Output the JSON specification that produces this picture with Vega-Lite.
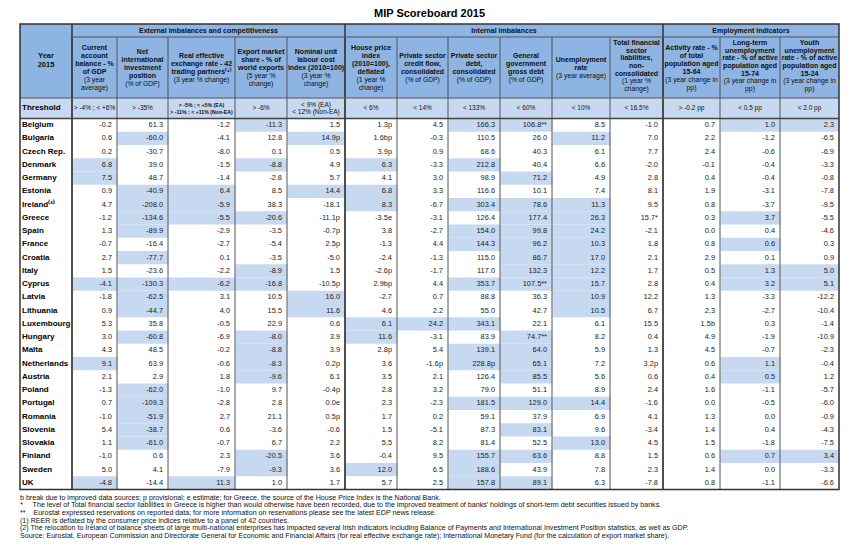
{
 "$schema": "https://vega.github.io/schema/vega-lite/v6.json",
 "width": 863,
 "height": 528,
 "padding": {"left": 0, "top": 24, "right": 0, "bottom": 0},
 "autosize": {"type": "none"},
 "background": "#ffffff",
 "title": {"text": "MIP Scoreboard 2015", "font": "Liberation Sans", "fontSize": 11, "fontWeight": "bold", "color": "#000000", "anchor": "middle", "frame": "group", "offset": 4, "dx": -2},
 "config": {"view": {"stroke": null}, "axis": {"disable": true}, "font": "Liberation Sans", "text": {"font": "Liberation Sans"}},
 "data": {"values": [{}]},
 "datasets": {
  "columns": [
   {"col": 1, "key": "CA", "group": "External imbalances and competitiveness", "label": ["Current", "account", "balance - %", "of GDP"], "unit": ["(3 year", "average)"], "threshold": ["> -4% ; < +6%"]},
   {"col": 2, "key": "NIIP", "group": "External imbalances and competitiveness", "label": ["Net", "international", "investment", "position"], "unit": ["(% of GDP)"], "threshold": ["> -35%"]},
   {"col": 3, "key": "REER", "group": "External imbalances and competitiveness", "label": ["Real effective", "exchange rate - 42", "trading partners⁽¹⁾"], "unit": ["(3 year % change)"], "threshold": ["> -5% ; < +5% (EA)", "> -11% ; < +11% (Non-EA)"]},
   {"col": 4, "key": "EMS", "group": "External imbalances and competitiveness", "label": ["Export market", "share - % of", "world exports"], "unit": ["(5 year %", "change)"], "threshold": ["> -6%"]},
   {"col": 5, "key": "ULC", "group": "External imbalances and competitiveness", "label": ["Nominal unit", "labour cost", "index (2010=100)"], "unit": ["(3 year %", "change)"], "threshold": ["< 9% (EA)", "< 12% (Non-EA)"]},
   {"col": 6, "key": "HPI", "group": "Internal imbalances", "label": ["House price", "index", "(2010=100),", "deflated"], "unit": ["(1 year %", "change)"], "threshold": ["< 6%"]},
   {"col": 7, "key": "CF", "group": "Internal imbalances", "label": ["Private sector", "credit flow,", "consolidated"], "unit": ["(% of GDP)"], "threshold": ["< 14%"]},
   {"col": 8, "key": "PD", "group": "Internal imbalances", "label": ["Private sector", "debt,", "consolidated"], "unit": ["(% of GDP)"], "threshold": ["< 133%"]},
   {"col": 9, "key": "GD", "group": "Internal imbalances", "label": ["General", "government", "gross debt"], "unit": ["(% of GDP)"], "threshold": ["< 60%"]},
   {"col": 10, "key": "U", "group": "Internal imbalances", "label": ["Unemployment", "rate"], "unit": ["(3 year average)"], "threshold": ["< 10%"]},
   {"col": 11, "key": "TFSL", "group": "Internal imbalances", "label": ["Total financial", "sector", "liabilities,", "non-", "consolidated"], "unit": ["(1 year %", "change)"], "threshold": ["< 16.5%"]},
   {"col": 12, "key": "AR", "group": "Employment indicators", "label": ["Activity rate - %", "of total", "population aged", "15-64"], "unit": ["(3 year change in", "pp)"], "threshold": ["> -0.2 pp"]},
   {"col": 13, "key": "LTU", "group": "Employment indicators", "label": ["Long-term", "unemployment", "rate - % of active", "population aged", "15-74"], "unit": ["(3 year change in", "pp)"], "threshold": ["< 0.5 pp"]},
   {"col": 14, "key": "YU", "group": "Employment indicators", "label": ["Youth", "unemployment", "rate - % of active", "population aged", "15-24"], "unit": ["(3 year change in", "pp)"], "threshold": ["< 2.0 pp"]}
  ],
  "countries": [
   {"country": "Belgium", "CA": "-0.2", "NIIP": "61.3", "REER": "-1.2", "EMS": "-11.3", "ULC": "1.5", "HPI": "1.3p", "CF": "4.5", "PD": "166.3", "GD": "106.8**", "U": "8.5", "TFSL": "-1.0", "AR": "0.7", "LTU": "1.0", "YU": "2.3", "out": ["EMS", "PD", "GD", "LTU", "YU"]},
   {"country": "Bulgaria", "CA": "0.6", "NIIP": "-60.0", "REER": "-4.1", "EMS": "12.8", "ULC": "14.9p", "HPI": "1.6bp", "CF": "-0.3", "PD": "110.5", "GD": "26.0", "U": "11.2", "TFSL": "7.0", "AR": "2.2", "LTU": "-1.2", "YU": "-6.5", "out": ["NIIP", "ULC", "U"]},
   {"country": "Czech Rep.", "CA": "0.2", "NIIP": "-30.7", "REER": "-8.0", "EMS": "0.1", "ULC": "0.5", "HPI": "3.9p", "CF": "0.9", "PD": "68.6", "GD": "40.3", "U": "6.1", "TFSL": "7.7", "AR": "2.4", "LTU": "-0.6", "YU": "-6.9", "out": []},
   {"country": "Denmark", "CA": "6.8", "NIIP": "39.0", "REER": "-1.5", "EMS": "-8.8", "ULC": "4.9", "HPI": "6.3", "CF": "-3.3", "PD": "212.8", "GD": "40.4", "U": "6.6", "TFSL": "-2.0", "AR": "-0.1", "LTU": "-0.4", "YU": "-3.3", "out": ["CA", "EMS", "HPI", "PD"]},
   {"country": "Germany", "CA": "7.5", "NIIP": "48.7", "REER": "-1.4", "EMS": "-2.8", "ULC": "5.7", "HPI": "4.1", "CF": "3.0", "PD": "98.9", "GD": "71.2", "U": "4.9", "TFSL": "2.8", "AR": "0.4", "LTU": "-0.4", "YU": "-0.8", "out": ["CA", "GD"]},
   {"country": "Estonia", "CA": "0.9", "NIIP": "-40.9", "REER": "6.4", "EMS": "8.5", "ULC": "14.4", "HPI": "6.8", "CF": "3.3", "PD": "116.6", "GD": "10.1", "U": "7.4", "TFSL": "8.1", "AR": "1.9", "LTU": "-3.1", "YU": "-7.8", "out": ["NIIP", "REER", "ULC", "HPI"]},
   {"country": "Ireland⁽²⁾", "CA": "4.7", "NIIP": "-208.0", "REER": "-5.9", "EMS": "38.3", "ULC": "-18.1", "HPI": "8.3", "CF": "-6.7", "PD": "303.4", "GD": "78.6", "U": "11.3", "TFSL": "9.5", "AR": "0.8", "LTU": "-3.7", "YU": "-9.5", "out": ["NIIP", "REER", "HPI", "PD", "GD", "U"]},
   {"country": "Greece", "CA": "-1.2", "NIIP": "-134.6", "REER": "-5.5", "EMS": "-20.6", "ULC": "-11.1p", "HPI": "-3.5e", "CF": "-3.1", "PD": "126.4", "GD": "177.4", "U": "26.3", "TFSL": "15.7*", "AR": "0.3", "LTU": "3.7", "YU": "-5.5", "out": ["NIIP", "REER", "EMS", "GD", "U", "LTU"]},
   {"country": "Spain", "CA": "1.3", "NIIP": "-89.9", "REER": "-2.9", "EMS": "-3.5", "ULC": "-0.7p", "HPI": "3.8", "CF": "-2.7", "PD": "154.0", "GD": "99.8", "U": "24.2", "TFSL": "-2.1", "AR": "0.0", "LTU": "0.4", "YU": "-4.6", "out": ["NIIP", "PD", "GD", "U"]},
   {"country": "France", "CA": "-0.7", "NIIP": "-16.4", "REER": "-2.7", "EMS": "-5.4", "ULC": "2.5p", "HPI": "-1.3", "CF": "4.4", "PD": "144.3", "GD": "96.2", "U": "10.3", "TFSL": "1.8", "AR": "0.8", "LTU": "0.6", "YU": "0.3", "out": ["PD", "GD", "U", "LTU"]},
   {"country": "Croatia", "CA": "2.7", "NIIP": "-77.7", "REER": "0.1", "EMS": "-3.5", "ULC": "-5.0", "HPI": "-2.4", "CF": "-1.3", "PD": "115.0", "GD": "86.7", "U": "17.0", "TFSL": "2.1", "AR": "2.9", "LTU": "0.1", "YU": "0.9", "out": ["NIIP", "GD", "U"]},
   {"country": "Italy", "CA": "1.5", "NIIP": "-23.6", "REER": "-2.2", "EMS": "-8.9", "ULC": "1.5", "HPI": "-2.6p", "CF": "-1.7", "PD": "117.0", "GD": "132.3", "U": "12.2", "TFSL": "1.7", "AR": "0.5", "LTU": "1.3", "YU": "5.0", "out": ["EMS", "GD", "U", "LTU", "YU"]},
   {"country": "Cyprus", "CA": "-4.1", "NIIP": "-130.3", "REER": "-6.2", "EMS": "-16.8", "ULC": "-10.5p", "HPI": "2.9bp", "CF": "4.4", "PD": "353.7", "GD": "107.5**", "U": "15.7", "TFSL": "2.8", "AR": "0.4", "LTU": "3.2", "YU": "5.1", "out": ["CA", "NIIP", "REER", "EMS", "PD", "GD", "U", "LTU", "YU"]},
   {"country": "Latvia", "CA": "-1.8", "NIIP": "-62.5", "REER": "3.1", "EMS": "10.5", "ULC": "16.0", "HPI": "-2.7", "CF": "0.7", "PD": "88.8", "GD": "36.3", "U": "10.9", "TFSL": "12.2", "AR": "1.3", "LTU": "-3.3", "YU": "-12.2", "out": ["NIIP", "ULC", "U"]},
   {"country": "Lithuania", "CA": "0.9", "NIIP": "-44.7", "REER": "4.0", "EMS": "15.5", "ULC": "11.6", "HPI": "4.6", "CF": "2.2", "PD": "55.0", "GD": "42.7", "U": "10.5", "TFSL": "6.7", "AR": "2.3", "LTU": "-2.7", "YU": "-10.4", "out": ["NIIP", "ULC", "U"]},
   {"country": "Luxembourg", "CA": "5.3", "NIIP": "35.8", "REER": "-0.5", "EMS": "22.9", "ULC": "0.6", "HPI": "6.1", "CF": "24.2", "PD": "343.1", "GD": "22.1", "U": "6.1", "TFSL": "15.5", "AR": "1.5b", "LTU": "0.3", "YU": "-1.4", "out": ["HPI", "CF", "PD"]},
   {"country": "Hungary", "CA": "3.0", "NIIP": "-60.8", "REER": "-6.9", "EMS": "-8.0", "ULC": "3.9", "HPI": "11.6", "CF": "-3.1", "PD": "83.9", "GD": "74.7**", "U": "8.2", "TFSL": "0.4", "AR": "4.9", "LTU": "-1.9", "YU": "-10.9", "out": ["NIIP", "EMS", "HPI", "GD"]},
   {"country": "Malta", "CA": "4.3", "NIIP": "48.5", "REER": "-0.2", "EMS": "-8.8", "ULC": "3.9", "HPI": "2.8p", "CF": "5.4", "PD": "139.1", "GD": "64.0", "U": "5.9", "TFSL": "1.3", "AR": "4.5", "LTU": "-0.7", "YU": "-2.3", "out": ["EMS", "PD", "GD"]},
   {"country": "Netherlands", "CA": "9.1", "NIIP": "63.9", "REER": "-0.6", "EMS": "-8.3", "ULC": "0.2p", "HPI": "3.6", "CF": "-1.6p", "PD": "228.8p", "GD": "65.1", "U": "7.2", "TFSL": "3.2p", "AR": "0.6", "LTU": "1.1", "YU": "-0.4", "out": ["CA", "EMS", "PD", "GD", "LTU"]},
   {"country": "Austria", "CA": "2.1", "NIIP": "2.9", "REER": "1.8", "EMS": "-9.6", "ULC": "6.1", "HPI": "3.5", "CF": "2.1", "PD": "126.4", "GD": "85.5", "U": "5.6", "TFSL": "0.6", "AR": "0.4", "LTU": "0.5", "YU": "1.2", "out": ["EMS", "GD", "LTU"]},
   {"country": "Poland", "CA": "-1.3", "NIIP": "-62.0", "REER": "-1.0", "EMS": "9.7", "ULC": "-0.4p", "HPI": "2.8", "CF": "3.2", "PD": "79.0", "GD": "51.1", "U": "8.9", "TFSL": "2.4", "AR": "1.6", "LTU": "-1.1", "YU": "-5.7", "out": ["NIIP"]},
   {"country": "Portugal", "CA": "0.7", "NIIP": "-109.3", "REER": "-2.8", "EMS": "2.8", "ULC": "0.0e", "HPI": "2.3", "CF": "-2.3", "PD": "181.5", "GD": "129.0", "U": "14.4", "TFSL": "-1.6", "AR": "0.0", "LTU": "-0.5", "YU": "-6.0", "out": ["NIIP", "PD", "GD", "U"]},
   {"country": "Romania", "CA": "-1.0", "NIIP": "-51.9", "REER": "2.7", "EMS": "21.1", "ULC": "0.5p", "HPI": "1.7", "CF": "0.2", "PD": "59.1", "GD": "37.9", "U": "6.9", "TFSL": "4.1", "AR": "1.3", "LTU": "0.0", "YU": "-0.9", "out": ["NIIP"]},
   {"country": "Slovenia", "CA": "5.4", "NIIP": "-38.7", "REER": "0.6", "EMS": "-3.6", "ULC": "-0.6", "HPI": "1.5", "CF": "-5.1", "PD": "87.3", "GD": "83.1", "U": "9.6", "TFSL": "-3.4", "AR": "1.4", "LTU": "0.4", "YU": "-4.3", "out": ["NIIP", "GD"]},
   {"country": "Slovakia", "CA": "1.1", "NIIP": "-61.0", "REER": "-0.7", "EMS": "6.7", "ULC": "2.2", "HPI": "5.5", "CF": "8.2", "PD": "81.4", "GD": "52.5", "U": "13.0", "TFSL": "4.5", "AR": "1.5", "LTU": "-1.8", "YU": "-7.5", "out": ["NIIP", "U"]},
   {"country": "Finland", "CA": "-1.0", "NIIP": "0.6", "REER": "2.3", "EMS": "-20.5", "ULC": "3.6", "HPI": "-0.4", "CF": "9.5", "PD": "155.7", "GD": "63.6", "U": "8.8", "TFSL": "1.5", "AR": "0.6", "LTU": "0.7", "YU": "3.4", "out": ["EMS", "PD", "GD", "LTU", "YU"]},
   {"country": "Sweden", "CA": "5.0", "NIIP": "4.1", "REER": "-7.9", "EMS": "-9.3", "ULC": "3.6", "HPI": "12.0", "CF": "6.5", "PD": "188.6", "GD": "43.9", "U": "7.8", "TFSL": "2.3", "AR": "1.4", "LTU": "0.0", "YU": "-3.3", "out": ["EMS", "HPI", "PD"]},
   {"country": "UK", "CA": "-4.8", "NIIP": "-14.4", "REER": "11.3", "EMS": "1.0", "ULC": "1.7", "HPI": "5.7", "CF": "2.5", "PD": "157.8", "GD": "89.1", "U": "6.3", "TFSL": "-7.8", "AR": "0.8", "LTU": "-1.1", "YU": "-6.6", "out": ["CA", "REER", "PD", "GD"]}
  ],
  "footnotes": [
   {"line": 0, "text": "b break due to improved data sources;  p provisional;  e estimate; for Greece, the source of the House Price Index is the National Bank."},
   {"line": 1, "text": "*\u00a0\u00a0\u00a0\u00a0\u00a0The level of Total financial sector liabilities in Greece is higher than would otherwise have been recorded, due to the improved treatment of banks' holdings of short-term debt securities issued by banks."},
   {"line": 2, "text": "**\u00a0\u00a0\u00a0\u00a0Eurostat expressed reservations on reported data; for more information on reservations please see the latest EDP news release."},
   {"line": 3, "text": "(1) REER is deflated by the consumer price indices relative to a panel of 42 countries."},
   {"line": 4, "text": "(2) The relocation to Ireland of balance sheets of large multi-national enterprises has impacted several Irish indicators including Balance of Payments and International Investment Position statistics, as well as GDP."},
   {"line": 5, "text": "Source: Eurostat, European Commission and Directorate General for Economic and Financial Affairs (for real effective exchange rate); International Monetary Fund (for the calculation of export market share)."}
  ]
 },
 "layer": [
  {
   "mark": {"type": "rect", "fill": "#8db4e2"},
   "encoding": {
    "x": {"datum": 0, "type": "quantitative", "scale": {"type": "linear", "domain": [0,1,2,3,4,5,6,7,8,9,10,11,12,13,14,15], "range": [20,72,117,168,235,287,345,397,448,500,552,610,663,720,780,839], "nice": false, "zero": false}},
    "x2": {"datum": 15},
    "y": {"datum": 0, "type": "quantitative", "scale": {"type": "linear", "domain": [0,1,2,3,4], "range": [0,13,74,94.5,465.5], "nice": false, "zero": false}},
    "y2": {"datum": 2}
   }
  },
  {
   "mark": {"type": "rect", "fill": "#c6d9f1"},
   "encoding": {
    "x": {"datum": 0, "type": "quantitative", "scale": {"type": "linear", "domain": [0,1,2,3,4,5,6,7,8,9,10,11,12,13,14,15], "range": [20,72,117,168,235,287,345,397,448,500,552,610,663,720,780,839], "nice": false, "zero": false}},
    "x2": {"datum": 15},
    "y": {"datum": 2, "type": "quantitative", "scale": {"type": "linear", "domain": [0,1,2,3,4], "range": [0,13,74,94.5,465.5], "nice": false, "zero": false}},
    "y2": {"datum": 3}
   }
  },
  {
   "data": {"name": "countries"},
   "transform": [
    {"fold": ["CA","NIIP","REER","EMS","ULC","HPI","CF","PD","GD","U","TFSL","AR","LTU","YU"], "as": ["key", "value"]},
    {"window": [{"op": "row_number", "as": "col"}], "groupby": ["country"]}
   ],
   "mark": {"type": "rect", "fill": "#c6d9f1"},
   "encoding": {
    "x": {"field": "col", "type": "quantitative", "bin": {"binned": true, "step": 1}, "scale": {"type": "linear", "domain": [0,1,2,3,4,5,6,7,8,9,10,11,12,13,14,15], "range": [20,72,117,168,235,287,345,397,448,500,552,610,663,720,780,839], "nice": false, "zero": false}},
    "y": {"field": "country", "type": "nominal", "sort": null, "scale": {"type": "band", "range": [94.5, 465.5], "paddingInner": 0, "paddingOuter": 0}},
    "opacity": {"condition": {"test": "indexof(datum.out, datum.key) >= 0", "value": 1}, "value": 0}
   }
  },
  {
   "data": {"name": "countries"},
   "transform": [
    {"fold": ["CA","NIIP","REER","EMS","ULC","HPI","CF","PD","GD","U","TFSL","AR","LTU","YU"], "as": ["key", "value"]},
    {"window": [{"op": "row_number", "as": "col"}], "groupby": ["country"]}
   ],
   "mark": {"type": "text", "align": "right", "baseline": "middle", "dx": -5, "fontSize": 7.4, "color": "#222222"},
   "encoding": {
    "x": {"field": "col", "type": "quantitative", "scale": {"type": "linear", "domain": [1,2,3,4,5,6,7,8,9,10,11,12,13,14], "range": [117,168,235,287,345,397,448,500,552,610,663,720,780,839], "nice": false, "zero": false}},
    "y": {"field": "country", "type": "nominal", "sort": null, "scale": {"type": "band", "range": [94.5, 465.5], "paddingInner": 0, "paddingOuter": 0}},
    "text": {"field": "value", "type": "nominal"}
   }
  },
  {
   "data": {"name": "countries"},
   "mark": {"type": "text", "align": "left", "baseline": "middle", "dx": 2, "fontSize": 8, "fontWeight": "bold", "color": "#000000"},
   "encoding": {
    "x": {"datum": 0, "type": "quantitative", "scale": {"type": "linear", "domain": [0,1,2,3,4,5,6,7,8,9,10,11,12,13,14,15], "range": [20,72,117,168,235,287,345,397,448,500,552,610,663,720,780,839], "nice": false, "zero": false}},
    "y": {"field": "country", "type": "nominal", "sort": null, "scale": {"type": "band", "range": [94.5, 465.5], "paddingInner": 0, "paddingOuter": 0}},
    "text": {"field": "country", "type": "nominal"}
   }
  },
  {
   "data": {"name": "columns"},
   "transform": [{"filter": "length(datum.label) + length(datum.unit) == 3"}],
   "mark": {"type": "text", "align": "center", "baseline": "middle", "fontSize": 7, "fontWeight": "bold", "lineHeight": 8, "dy": -8, "color": "#111111"},
   "encoding": {
    "x": {"field": "col", "type": "quantitative", "scale": {"type": "linear", "domain": [1,2,3,4,5,6,7,8,9,10,11,12,13,14], "range": [94.5,142.5,201.5,261,316,371,422.5,474,526,581,636.5,691.5,750,809.5], "nice": false, "zero": false}},
    "y": {"datum": 1.5, "type": "quantitative", "scale": {"type": "linear", "domain": [0,1,2,3,4], "range": [0,13,74,94.5,465.5], "nice": false, "zero": false}},
    "text": {"field": "label", "type": "nominal"}
   }
  },
  {
   "data": {"name": "columns"},
   "transform": [{"filter": "length(datum.label) + length(datum.unit) == 4"}],
   "mark": {"type": "text", "align": "center", "baseline": "middle", "fontSize": 7, "fontWeight": "bold", "lineHeight": 8, "dy": -12, "color": "#111111"},
   "encoding": {
    "x": {"field": "col", "type": "quantitative", "scale": {"type": "linear", "domain": [1,2,3,4,5,6,7,8,9,10,11,12,13,14], "range": [94.5,142.5,201.5,261,316,371,422.5,474,526,581,636.5,691.5,750,809.5], "nice": false, "zero": false}},
    "y": {"datum": 1.5, "type": "quantitative", "scale": {"type": "linear", "domain": [0,1,2,3,4], "range": [0,13,74,94.5,465.5], "nice": false, "zero": false}},
    "text": {"field": "label", "type": "nominal"}
   }
  },
  {
   "data": {"name": "columns"},
   "transform": [{"filter": "length(datum.label) + length(datum.unit) == 5"}],
   "mark": {"type": "text", "align": "center", "baseline": "middle", "fontSize": 7, "fontWeight": "bold", "lineHeight": 8, "dy": -16, "color": "#111111"},
   "encoding": {
    "x": {"field": "col", "type": "quantitative", "scale": {"type": "linear", "domain": [1,2,3,4,5,6,7,8,9,10,11,12,13,14], "range": [94.5,142.5,201.5,261,316,371,422.5,474,526,581,636.5,691.5,750,809.5], "nice": false, "zero": false}},
    "y": {"datum": 1.5, "type": "quantitative", "scale": {"type": "linear", "domain": [0,1,2,3,4], "range": [0,13,74,94.5,465.5], "nice": false, "zero": false}},
    "text": {"field": "label", "type": "nominal"}
   }
  },
  {
   "data": {"name": "columns"},
   "transform": [{"filter": "length(datum.label) + length(datum.unit) == 6"}],
   "mark": {"type": "text", "align": "center", "baseline": "middle", "fontSize": 7, "fontWeight": "bold", "lineHeight": 8, "dy": -20, "color": "#111111"},
   "encoding": {
    "x": {"field": "col", "type": "quantitative", "scale": {"type": "linear", "domain": [1,2,3,4,5,6,7,8,9,10,11,12,13,14], "range": [94.5,142.5,201.5,261,316,371,422.5,474,526,581,636.5,691.5,750,809.5], "nice": false, "zero": false}},
    "y": {"datum": 1.5, "type": "quantitative", "scale": {"type": "linear", "domain": [0,1,2,3,4], "range": [0,13,74,94.5,465.5], "nice": false, "zero": false}},
    "text": {"field": "label", "type": "nominal"}
   }
  },
  {
   "data": {"name": "columns"},
   "transform": [{"filter": "length(datum.label) + length(datum.unit) == 7"}],
   "mark": {"type": "text", "align": "center", "baseline": "middle", "fontSize": 7, "fontWeight": "bold", "lineHeight": 7.6, "dy": -24.3, "color": "#111111"},
   "encoding": {
    "x": {"field": "col", "type": "quantitative", "scale": {"type": "linear", "domain": [1,2,3,4,5,6,7,8,9,10,11,12,13,14], "range": [94.5,142.5,201.5,261,316,371,422.5,474,526,581,636.5,691.5,750,809.5], "nice": false, "zero": false}},
    "y": {"datum": 1.5, "type": "quantitative", "scale": {"type": "linear", "domain": [0,1,2,3,4], "range": [0,13,74,94.5,465.5], "nice": false, "zero": false}},
    "text": {"field": "label", "type": "nominal"}
   }
  },
  {
   "data": {"name": "columns"},
   "transform": [{"filter": "length(datum.label) - length(datum.unit) == 1"}],
   "mark": {"type": "text", "align": "center", "baseline": "middle", "fontSize": 6.8, "lineHeight": 8, "dy": 8, "color": "#111111"},
   "encoding": {
    "x": {"field": "col", "type": "quantitative", "scale": {"type": "linear", "domain": [1,2,3,4,5,6,7,8,9,10,11,12,13,14], "range": [94.5,142.5,201.5,261,316,371,422.5,474,526,581,636.5,691.5,750,809.5], "nice": false, "zero": false}},
    "y": {"datum": 1.5, "type": "quantitative", "scale": {"type": "linear", "domain": [0,1,2,3,4], "range": [0,13,74,94.5,465.5], "nice": false, "zero": false}},
    "text": {"field": "unit", "type": "nominal"}
   }
  },
  {
   "data": {"name": "columns"},
   "transform": [{"filter": "length(datum.label) - length(datum.unit) == 2"}],
   "mark": {"type": "text", "align": "center", "baseline": "middle", "fontSize": 6.8, "lineHeight": 8, "dy": 12, "color": "#111111"},
   "encoding": {
    "x": {"field": "col", "type": "quantitative", "scale": {"type": "linear", "domain": [1,2,3,4,5,6,7,8,9,10,11,12,13,14], "range": [94.5,142.5,201.5,261,316,371,422.5,474,526,581,636.5,691.5,750,809.5], "nice": false, "zero": false}},
    "y": {"datum": 1.5, "type": "quantitative", "scale": {"type": "linear", "domain": [0,1,2,3,4], "range": [0,13,74,94.5,465.5], "nice": false, "zero": false}},
    "text": {"field": "unit", "type": "nominal"}
   }
  },
  {
   "data": {"name": "columns"},
   "transform": [{"filter": "length(datum.label) - length(datum.unit) == 3 && length(datum.unit) == 1"}],
   "mark": {"type": "text", "align": "center", "baseline": "middle", "fontSize": 6.8, "lineHeight": 8, "dy": 16, "color": "#111111"},
   "encoding": {
    "x": {"field": "col", "type": "quantitative", "scale": {"type": "linear", "domain": [1,2,3,4,5,6,7,8,9,10,11,12,13,14], "range": [94.5,142.5,201.5,261,316,371,422.5,474,526,581,636.5,691.5,750,809.5], "nice": false, "zero": false}},
    "y": {"datum": 1.5, "type": "quantitative", "scale": {"type": "linear", "domain": [0,1,2,3,4], "range": [0,13,74,94.5,465.5], "nice": false, "zero": false}},
    "text": {"field": "unit", "type": "nominal"}
   }
  },
  {
   "data": {"name": "columns"},
   "transform": [{"filter": "length(datum.label) - length(datum.unit) == 3 && length(datum.unit) == 2"}],
   "mark": {"type": "text", "align": "center", "baseline": "middle", "fontSize": 6.8, "lineHeight": 7.6, "dy": 13.7, "color": "#111111"},
   "encoding": {
    "x": {"field": "col", "type": "quantitative", "scale": {"type": "linear", "domain": [1,2,3,4,5,6,7,8,9,10,11,12,13,14], "range": [94.5,142.5,201.5,261,316,371,422.5,474,526,581,636.5,691.5,750,809.5], "nice": false, "zero": false}},
    "y": {"datum": 1.5, "type": "quantitative", "scale": {"type": "linear", "domain": [0,1,2,3,4], "range": [0,13,74,94.5,465.5], "nice": false, "zero": false}},
    "text": {"field": "unit", "type": "nominal"}
   }
  },
  {
   "data": {"values": [{"label": ["Year", "2015"]}]},
   "mark": {"type": "text", "align": "center", "baseline": "middle", "fontSize": 7.5, "fontWeight": "bold", "lineHeight": 9, "dy": -4.5, "color": "#111111"},
   "encoding": {
    "x": {"datum": 0.5, "type": "quantitative", "scale": {"type": "linear", "domain": [0,1,2,3,4,5,6,7,8,9,10,11,12,13,14,15], "range": [20,72,117,168,235,287,345,397,448,500,552,610,663,720,780,839], "nice": false, "zero": false}},
    "y": {"datum": 1.393, "type": "quantitative", "scale": {"type": "linear", "domain": [0,1,2,3,4], "range": [0,13,74,94.5,465.5], "nice": false, "zero": false}},
    "text": {"field": "label", "type": "nominal"}
   }
  },
  {
   "data": {"name": "columns"},
   "transform": [{"filter": "length(datum.threshold) == 1"}],
   "mark": {"type": "text", "align": "center", "baseline": "middle", "fontSize": 6.5, "color": "#111111"},
   "encoding": {
    "x": {"field": "col", "type": "quantitative", "scale": {"type": "linear", "domain": [1,2,3,4,5,6,7,8,9,10,11,12,13,14], "range": [94.5,142.5,201.5,261,316,371,422.5,474,526,581,636.5,691.5,750,809.5], "nice": false, "zero": false}},
    "y": {"datum": 2.5, "type": "quantitative", "scale": {"type": "linear", "domain": [0,1,2,3,4], "range": [0,13,74,94.5,465.5], "nice": false, "zero": false}},
    "text": {"field": "threshold", "type": "nominal"}
   }
  },
  {
   "data": {"name": "columns"},
   "transform": [{"filter": "length(datum.threshold) == 2 && datum.key != 'REER'"}],
   "mark": {"type": "text", "align": "center", "baseline": "middle", "fontSize": 6.5, "lineHeight": 7.5, "dy": -3.75, "color": "#111111"},
   "encoding": {
    "x": {"field": "col", "type": "quantitative", "scale": {"type": "linear", "domain": [1,2,3,4,5,6,7,8,9,10,11,12,13,14], "range": [94.5,142.5,201.5,261,316,371,422.5,474,526,581,636.5,691.5,750,809.5], "nice": false, "zero": false}},
    "y": {"datum": 2.5, "type": "quantitative", "scale": {"type": "linear", "domain": [0,1,2,3,4], "range": [0,13,74,94.5,465.5], "nice": false, "zero": false}},
    "text": {"field": "threshold", "type": "nominal"}
   }
  },
  {
   "data": {"name": "columns"},
   "transform": [{"filter": "datum.key == 'REER'"}],
   "mark": {"type": "text", "align": "center", "baseline": "middle", "fontSize": 5.2, "fontWeight": "bold", "lineHeight": 6.5, "dy": -3.25, "color": "#111111"},
   "encoding": {
    "x": {"field": "col", "type": "quantitative", "scale": {"type": "linear", "domain": [1,2,3,4,5,6,7,8,9,10,11,12,13,14], "range": [94.5,142.5,201.5,261,316,371,422.5,474,526,581,636.5,691.5,750,809.5], "nice": false, "zero": false}},
    "y": {"datum": 2.5, "type": "quantitative", "scale": {"type": "linear", "domain": [0,1,2,3,4], "range": [0,13,74,94.5,465.5], "nice": false, "zero": false}},
    "text": {"field": "threshold", "type": "nominal"}
   }
  },
  {
   "data": {"values": [{"label": "Threshold"}]},
   "mark": {"type": "text", "align": "left", "baseline": "middle", "dx": 2, "fontSize": 8, "fontWeight": "bold", "color": "#000000"},
   "encoding": {
    "x": {"datum": 0, "type": "quantitative", "scale": {"type": "linear", "domain": [0,1,2,3,4,5,6,7,8,9,10,11,12,13,14,15], "range": [20,72,117,168,235,287,345,397,448,500,552,610,663,720,780,839], "nice": false, "zero": false}},
    "y": {"datum": 2.5, "type": "quantitative", "scale": {"type": "linear", "domain": [0,1,2,3,4], "range": [0,13,74,94.5,465.5], "nice": false, "zero": false}},
    "text": {"field": "label", "type": "nominal"}
   }
  },
  {
   "data": {"name": "columns"},
   "mark": {"type": "text", "align": "center", "baseline": "middle", "fontSize": 7, "fontWeight": "bold", "color": "#111111"},
   "encoding": {
    "x": {"aggregate": "min", "field": "col", "type": "quantitative", "scale": {"type": "linear", "domain": [1, 6, 12], "range": [208.5, 504, 751], "nice": false, "zero": false}},
    "y": {"datum": 0.5, "type": "quantitative", "scale": {"type": "linear", "domain": [0,1,2,3,4], "range": [0,13,74,94.5,465.5], "nice": false, "zero": false}},
    "text": {"field": "group", "type": "nominal"}
   }
  },
  {
   "data": {"name": "columns"},
   "mark": {"type": "rule", "color": "#555555", "strokeWidth": 1},
   "encoding": {
    "x": {"field": "col", "type": "quantitative", "scale": {"type": "linear", "domain": [0,1,2,3,4,5,6,7,8,9,10,11,12,13,14,15], "range": [20,72,117,168,235,287,345,397,448,500,552,610,663,720,780,839], "nice": false, "zero": false}},
    "y": {"datum": 1, "type": "quantitative", "scale": {"type": "linear", "domain": [0,1,2,3,4], "range": [0,13,74,94.5,465.5], "nice": false, "zero": false}},
    "y2": {"datum": 4}
   }
  },
  {
   "data": {"name": "columns"},
   "transform": [
    {"joinaggregate": [{"op": "min", "field": "col", "as": "gstart"}], "groupby": ["group"]},
    {"filter": "datum.col == datum.gstart"}
   ],
   "mark": {"type": "rule", "color": "#333333", "strokeWidth": 1.5},
   "encoding": {
    "x": {"field": "col", "type": "quantitative", "scale": {"type": "linear", "domain": [0,1,2,3,4,5,6,7,8,9,10,11,12,13,14,15], "range": [20,72,117,168,235,287,345,397,448,500,552,610,663,720,780,839], "nice": false, "zero": false}},
    "y": {"datum": 0, "type": "quantitative", "scale": {"type": "linear", "domain": [0,1,2,3,4], "range": [0,13,74,94.5,465.5], "nice": false, "zero": false}},
    "y2": {"datum": 4}
   }
  },
  {
   "mark": {"type": "rule", "color": "#555555", "strokeWidth": 1},
   "encoding": {
    "x": {"datum": 1, "type": "quantitative", "scale": {"type": "linear", "domain": [0,1,2,3,4,5,6,7,8,9,10,11,12,13,14,15], "range": [20,72,117,168,235,287,345,397,448,500,552,610,663,720,780,839], "nice": false, "zero": false}},
    "x2": {"datum": 15},
    "y": {"datum": 1, "type": "quantitative", "scale": {"type": "linear", "domain": [0,1,2,3,4], "range": [0,13,74,94.5,465.5], "nice": false, "zero": false}}
   }
  },
  {
   "mark": {"type": "rule", "color": "#555555", "strokeWidth": 1},
   "encoding": {
    "x": {"datum": 0, "type": "quantitative", "scale": {"type": "linear", "domain": [0,1,2,3,4,5,6,7,8,9,10,11,12,13,14,15], "range": [20,72,117,168,235,287,345,397,448,500,552,610,663,720,780,839], "nice": false, "zero": false}},
    "x2": {"datum": 15},
    "y": {"datum": 2, "type": "quantitative", "scale": {"type": "linear", "domain": [0,1,2,3,4], "range": [0,13,74,94.5,465.5], "nice": false, "zero": false}}
   }
  },
  {
   "mark": {"type": "rule", "color": "#444444", "strokeWidth": 1.5},
   "encoding": {
    "x": {"datum": 0, "type": "quantitative", "scale": {"type": "linear", "domain": [0,1,2,3,4,5,6,7,8,9,10,11,12,13,14,15], "range": [20,72,117,168,235,287,345,397,448,500,552,610,663,720,780,839], "nice": false, "zero": false}},
    "x2": {"datum": 15},
    "y": {"datum": 3, "type": "quantitative", "scale": {"type": "linear", "domain": [0,1,2,3,4], "range": [0,13,74,94.5,465.5], "nice": false, "zero": false}}
   }
  },
  {
   "mark": {"type": "rect", "filled": false, "stroke": "#333333", "strokeWidth": 1.5},
   "encoding": {
    "x": {"datum": 0, "type": "quantitative", "scale": {"type": "linear", "domain": [0,1,2,3,4,5,6,7,8,9,10,11,12,13,14,15], "range": [20,72,117,168,235,287,345,397,448,500,552,610,663,720,780,839], "nice": false, "zero": false}},
    "x2": {"datum": 15},
    "y": {"datum": 0, "type": "quantitative", "scale": {"type": "linear", "domain": [0,1,2,3,4], "range": [0,13,74,94.5,465.5], "nice": false, "zero": false}},
    "y2": {"datum": 4}
   }
  },
  {
   "data": {"name": "footnotes"},
   "mark": {"type": "text", "align": "left", "baseline": "middle", "fontSize": 7.1, "color": "#111111"},
   "encoding": {
    "x": {"datum": 0, "type": "quantitative", "scale": {"type": "linear", "domain": [0,1,2,3,4,5,6,7,8,9,10,11,12,13,14,15], "range": [20,72,117,168,235,287,345,397,448,500,552,610,663,720,780,839], "nice": false, "zero": false}},
    "y": {"field": "line", "type": "quantitative", "scale": {"type": "linear", "domain": [0, 5], "range": [473.7, 511.7], "nice": false, "zero": false}},
    "text": {"field": "text", "type": "nominal"}
   }
  }
 ],
 "resolve": {"scale": {"x": "independent", "y": "independent"}}
}
